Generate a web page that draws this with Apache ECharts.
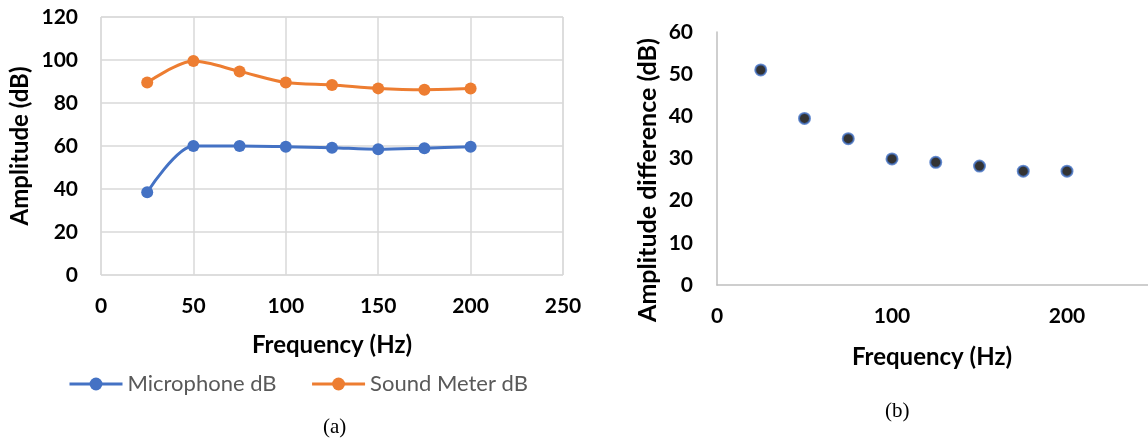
<!DOCTYPE html>
<html>
<head>
<meta charset="utf-8">
<script src="https://cdn.jsdelivr.net/npm/echarts@6/dist/echarts.min.js"></script>
<style>
html,body{margin:0;padding:0;background:#fff;}
#c{width:1148px;height:443px;}
</style>
</head>
<body>
<div id="c"></div>
<script>
const frequencies = [25, 50, 75, 100, 125, 150, 175, 200];
const microphoneDb = [38.5, 60.0, 60.0, 59.7, 59.2, 58.5, 59.0, 59.6];
const soundMeterDb = [89.5, 99.5, 94.7, 89.5, 88.4, 86.8, 86.2, 86.7];
const amplitudeDiff = [51.0, 39.5, 34.7, 29.9, 29.1, 28.2, 27.0, 27.0];

const FONT = 'Lato';
const tickStyle = {fontFamily: FONT, fontWeight: 'bold', fontSize: 21, color: '#000'};

const pairs = (xs, ys) => xs.map((x, i) => [x, ys[i]]);

const chart = echarts.init(document.getElementById('c'), null, {renderer: 'canvas'});
chart.setOption({
  animation: false,
  backgroundColor: '#fff',
  grid: [
    {left: 101, top: 17, width: 462, height: 258, show: true, borderColor: '#d9d9d9', borderWidth: 1,
     containLabel: false, outerBoundsMode: 'none'},
    {left: 717, top: 32, width: 525, height: 253, containLabel: false, outerBoundsMode: 'none'}
  ],
  xAxis: [
    {gridIndex: 0, type: 'value', min: 0, max: 250, interval: 50,
     axisLine: {show: false}, axisTick: {show: false},
     axisLabel: Object.assign({margin: 21}, tickStyle),
     splitLine: {show: true, lineStyle: {color: '#d9d9d9', width: 1.5}},
     name: 'Frequency (Hz)', nameLocation: 'middle', nameGap: 58,
     nameTextStyle: {fontFamily: FONT, fontWeight: 'bold', fontSize: 24, color: '#000'}},
    {gridIndex: 1, type: 'value', min: 0, max: 300, interval: 100,
     axisLine: {show: true, lineStyle: {color: '#bfbfbf', width: 1.5}}, axisTick: {show: false},
     axisLabel: Object.assign({margin: 21}, tickStyle),
     splitLine: {show: false}}
  ],
  yAxis: [
    {gridIndex: 0, type: 'value', min: 0, max: 120, interval: 20,
     axisLine: {show: false}, axisTick: {show: false},
     axisLabel: Object.assign({margin: 23}, tickStyle),
     splitLine: {show: true, lineStyle: {color: '#d9d9d9', width: 1.5}},
     name: 'Amplitude (dB)', nameLocation: 'middle', nameGap: 69,
     nameTextStyle: {fontFamily: FONT, fontWeight: 'bold', fontSize: 24, color: '#000'}},
    {gridIndex: 1, type: 'value', min: 0, max: 60, interval: 10,
     axisLine: {show: true, lineStyle: {color: '#bfbfbf', width: 1.5}}, axisTick: {show: false},
     axisLabel: Object.assign({margin: 24}, tickStyle),
     splitLine: {show: false}}
  ],
  legend: [
    {left: 63, top: 368, itemWidth: 53, itemHeight: 16, itemGap: 34,
     data: ['Microphone dB', 'Sound Meter dB'],
     lineStyle: {width: 3},
     textStyle: {fontFamily: FONT, fontSize: 22, color: '#595959'}}
  ],
  title: [
    {text: '(a)', left: 318, top: 412, textStyle: {fontFamily: 'Liberation Serif', fontWeight: 'normal', fontSize: 21, color: '#000'}},
    {text: '(b)', left: 880, top: 396, textStyle: {fontFamily: 'Liberation Serif', fontWeight: 'normal', fontSize: 21, color: '#000'}}
  ],
  graphic: [
    {type: 'text', x: 932, y: 357, style: {text: 'Frequency (Hz)', align: 'center', verticalAlign: 'middle',
      fontFamily: FONT, fontWeight: 'bold', fontSize: 24, fill: '#000'}},
    {type: 'text', x: 648, y: 180, rotation: Math.PI / 2, style: {text: 'Amplitude difference (dB)', align: 'center', verticalAlign: 'middle',
      fontFamily: FONT, fontWeight: 'bold', fontSize: 25, fill: '#000'}}
  ],
  series: [
    {name: 'Microphone dB', type: 'line', xAxisIndex: 0, yAxisIndex: 0, smooth: 0.3,
     data: pairs(frequencies, microphoneDb), symbol: 'circle', symbolSize: 12,
     lineStyle: {color: '#4472C4', width: 3}, itemStyle: {color: '#4472C4'}},
    {name: 'Sound Meter dB', type: 'line', xAxisIndex: 0, yAxisIndex: 0, smooth: 0.3,
     data: pairs(frequencies, soundMeterDb), symbol: 'circle', symbolSize: 12,
     lineStyle: {color: '#ED7D31', width: 3}, itemStyle: {color: '#ED7D31'}},
    {name: 'Amplitude difference', type: 'scatter', xAxisIndex: 1, yAxisIndex: 1,
     data: pairs(frequencies, amplitudeDiff), symbol: 'circle', symbolSize: 11,
     itemStyle: {color: '#000', borderColor: '#4472C4', borderWidth: 2}}
  ]
});
</script>
</body>
</html>
